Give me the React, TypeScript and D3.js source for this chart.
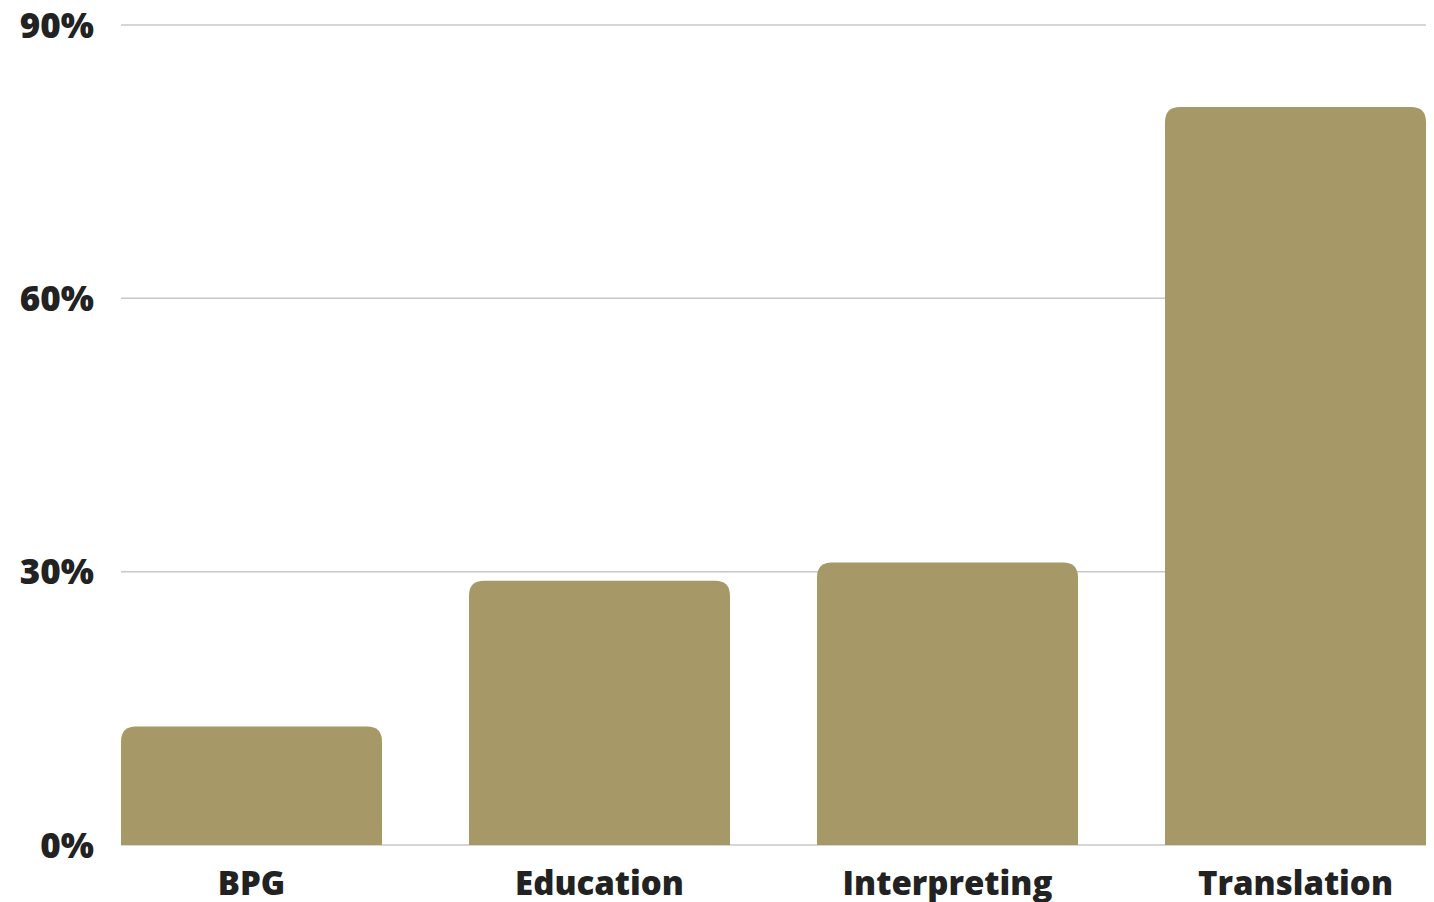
import React, { useRef, useEffect } from 'react';
import * as d3 from 'd3';

const categories = ['BPG', 'Education', 'Interpreting', 'Translation'];
const shares = [13, 29, 31, 81];
const yTicks = [0, 30, 60, 90];

const W = 1434;
const H = 902;

const App: React.FC = () => {
  const ref = useRef<SVGSVGElement>(null);

  useEffect(() => {
    if (!ref.current) return;
    const svg = d3.select(ref.current);
    svg.selectAll('*').remove();

    const x = d3.scaleBand()
      .domain(categories)
      .range([121, 1426])
      .paddingInner(0.25)
      .paddingOuter(0);

    const y = d3.scaleLinear()
      .domain([0, 90])
      .range([845, 25]);

    const font = "'Open Sans', 'Noto Sans', sans-serif";

    // Grid
    svg.append('g')
      .selectAll('line')
      .data(yTicks)
      .enter()
      .append('line')
      .attr('x1', 121)
      .attr('x2', 1426)
      .attr('y1', d => y(d))
      .attr('y2', d => y(d))
      .attr('stroke', '#c8c8c8')
      .attr('stroke-width', 1.5);

    // Y labels
    svg.append('g')
      .selectAll('text')
      .data(yTicks)
      .enter()
      .append('text')
      .attr('x', 94)
      .attr('y', d => y(d))
      .attr('dy', '0.36em')
      .attr('text-anchor', 'end')
      .attr('font-family', font)
      .attr('font-weight', 800)
      .attr('font-size', 35)
      .attr('fill', '#222222')
      .text(d => `${d}%`);

    // Bars with rounded top corners
    const r = 15;
    const barPath = (cat: string, v: number) => {
      const x0 = x(cat)!;
      const x1 = x0 + x.bandwidth();
      const top = y(v);
      const base = y(0);
      return `M${x0},${base}V${top + r}Q${x0},${top} ${x0 + r},${top}H${x1 - r}Q${x1},${top} ${x1},${top + r}V${base}Z`;
    };

    svg.append('g')
      .selectAll('path')
      .data(categories)
      .enter()
      .append('path')
      .attr('d', (d, i) => barPath(d, shares[i]))
      .attr('fill', '#a69867');

    // X labels
    svg.append('g')
      .selectAll('text')
      .data(categories)
      .enter()
      .append('text')
      .attr('x', d => x(d)! + x.bandwidth() / 2)
      .attr('y', 895)
      .attr('text-anchor', 'middle')
      .attr('font-family', font)
      .attr('font-weight', 800)
      .attr('font-size', 33)
      .attr('fill', '#222222')
      .text(d => d);
  }, []);

  return (
    <svg
      ref={ref}
      width={W}
      height={H}
      style={{ position: 'absolute', left: 0, top: 0, background: '#ffffff' }}
    />
  );
};

export default App;
